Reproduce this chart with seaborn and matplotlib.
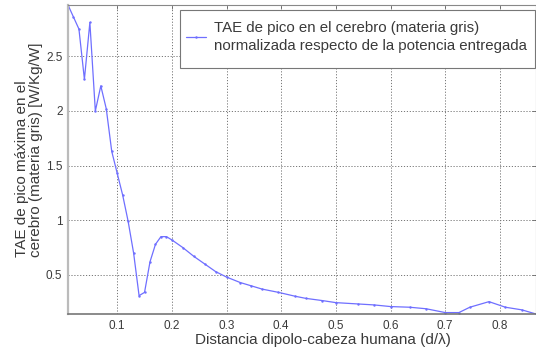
import matplotlib
matplotlib.use("Agg")
import matplotlib.pyplot as plt
import matplotlib.patches as mpatches
import seaborn as sns
import pandas as pd

# Peak SAR in grey matter vs. dipole-head distance (normalised to delivered power)
distance = [0.01, 0.02, 0.03, 0.04, 0.05, 0.06, 0.07, 0.08, 0.09, 0.10,
            0.11, 0.12, 0.13, 0.14, 0.15, 0.16, 0.17, 0.18, 0.19, 0.20,
            0.22, 0.24, 0.26, 0.28, 0.30, 0.325, 0.345, 0.365, 0.395, 0.425,
            0.445, 0.475, 0.50, 0.54, 0.57, 0.60, 0.635, 0.665, 0.70, 0.725,
            0.745, 0.78, 0.81, 0.84, 0.866]
tae = [2.97, 2.86, 2.75, 2.29, 2.81, 2.00, 2.23, 2.02, 1.63, 1.43,
       1.23, 0.99, 0.70, 0.31, 0.34, 0.62, 0.78, 0.85, 0.85, 0.82,
       0.75, 0.67, 0.60, 0.53, 0.48, 0.43, 0.40, 0.37, 0.34, 0.305,
       0.285, 0.265, 0.246, 0.234, 0.225, 0.21, 0.204, 0.19, 0.155, 0.155,
       0.204, 0.255, 0.204, 0.18, 0.142]

x_ticks = [0.1, 0.2, 0.3, 0.4, 0.5, 0.6, 0.7, 0.8]
x_tick_labels = ["0.1", "0.2", "0.3", "0.4", "0.5", "0.6", "0.7", "0.8"]
y_ticks = [0.5, 1.0, 1.5, 2.0, 2.5]
y_tick_labels = ["0.5", "1", "1.5", "2", "2.5"]

series_label = ("TAE de pico en el cerebro (materia gris)\n"
                "normalizada respecto de la potencia entregada")
x_label = "Distancia dipolo-cabeza humana (d/\u03bb)"
y_label = "TAE de pico máxima en el\ncerebro (materia gris) [W/Kg/W]"

df = pd.DataFrame({"d": distance, "tae": tae})

sns.set_style("white")
plt.rcParams["font.family"] = ["Liberation Sans", "DejaVu Sans"]

text_col = "#3a3a3a"
line_col = "#6f6fff"

W, H = 536, 349
fig = plt.figure(figsize=(W / 100, H / 100), dpi=100)
ax_left, ax_right, ax_top, ax_bottom = 68, 536, 5, 314
ax = fig.add_axes([ax_left / W, 1 - ax_bottom / H,
                   (ax_right - ax_left) / W, (ax_bottom - ax_top) / H])

sns.lineplot(data=df, x="d", y="tae", ax=ax, color=line_col, linewidth=0.9,
             marker=".", markersize=3.5, markeredgewidth=0, label=series_label)

ax.set_xlim(0.01, 0.866)
ax.set_ylim(0.142, 2.97)
ax.set_xticks(x_ticks)
ax.set_xticklabels(x_tick_labels)
ax.set_yticks(y_ticks)
ax.set_yticklabels(y_tick_labels)

ax.grid(True, linestyle=(0, (1.2, 1.8)), color="#777777", linewidth=0.7)
ax.set_axisbelow(True)
for sp in ax.spines.values():
    sp.set_color("#888888")
    sp.set_linewidth(0.8)
ax.spines["left"].set_linewidth(1.6)
ax.spines["left"].set_color("#bbbbbb")
ax.spines["bottom"].set_linewidth(1.2)
ax.spines["bottom"].set_color("#777777")

ax.tick_params(axis="both", direction="in", length=3, width=0.6,
               colors="#666666", labelcolor=text_col, labelsize=8.5)
ax.tick_params(axis="x", pad=4)
ax.tick_params(axis="y", pad=4)
ax.tick_params(top=True, right=True)

ax.set_xlabel(x_label, fontsize=11, color=text_col)
ax.xaxis.set_label_coords((323 - ax_left) / (ax_right - ax_left),
                          -(333 - ax_bottom) / (ax_bottom - ax_top))
ax.set_ylabel(y_label, fontsize=11, color=text_col, linespacing=1.0,
              multialignment="left")
ax.yaxis.set_label_coords((43 - ax_left) / (ax_right - ax_left),
                          (ax_bottom - 150) / (ax_bottom - ax_top))

# legend text and sample line, boxed by a plain white frame
leg = ax.legend(loc="upper left", bbox_to_anchor=(186 / W, 1 - 21 / H),
                bbox_transform=fig.transFigure, fontsize=10.8, frameon=False,
                borderpad=0, handlelength=1.35, handletextpad=0.55,
                labelcolor=text_col, borderaxespad=0)
leg.set_zorder(6)
for t in leg.get_texts():
    t.set_linespacing(1.35)
frame = mpatches.Rectangle((180 / W, 1 - 68 / H), (535 - 180) / W, (68 - 10) / H,
                           transform=fig.transFigure, facecolor="white",
                           edgecolor="#777777", linewidth=0.8, zorder=5,
                           clip_on=False)
ax.add_patch(frame)

fig.savefig("out.png", dpi=100)
